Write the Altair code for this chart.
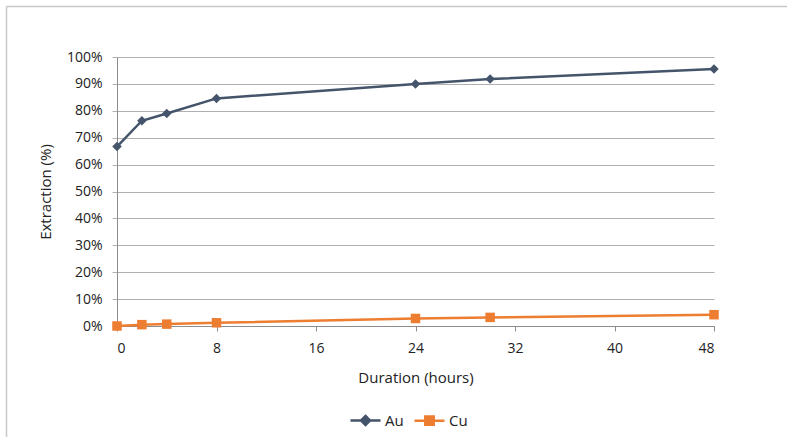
import altair as alt
import pandas as pd

hours = [0, 2, 4, 8, 24, 30, 48]
au = [0.667, 0.763, 0.790, 0.846, 0.900, 0.918, 0.955]
cu = [0.000, 0.005, 0.007, 0.012, 0.028, 0.032, 0.042]
series = ["Au", "Cu"]
colors = ["#44546A", "#ED7D31"]
x_ticks = [0, 8, 16, 24, 32, 40, 48]
y_ticks = [0, 0.1, 0.2, 0.3, 0.4, 0.5, 0.6, 0.7, 0.8, 0.9, 1.0]

df = pd.DataFrame({
    "hours": hours * 2,
    "value": au + cu,
    "series": ["Au"] * len(hours) + ["Cu"] * len(hours),
})

FONT = "Open Sans"
FS = 14
TFS = 15
GRID = "#B0B0B0"
AXIS = "#8C8C8C"

x_enc = alt.X("hours:Q", title="Duration (hours)",
              scale=alt.Scale(domain=[0, 48], nice=False),
              axis=alt.Axis(values=x_ticks, grid=False, tickSize=5, tickColor=AXIS,
                            domainColor=AXIS, labelPadding=10, titlePadding=15,
                            labelFontSize=FS, titleFontSize=TFS, labelColor="#222",
                            titleColor="#222", titleFontWeight="normal"))
y_enc = alt.Y("value:Q", title="Extraction (%)",
              scale=alt.Scale(domain=[0, 1], nice=False),
              axis=alt.Axis(values=y_ticks, format=".0%", grid=True, gridColor=GRID,
                            tickSize=5, tickColor=GRID, domainColor=AXIS,
                            labelPadding=10, titlePadding=13,
                            labelFontSize=FS, titleFontSize=TFS, labelColor="#222",
                            titleColor="#222", titleFontWeight="normal"))

base = alt.Chart(df)

layers = []
for name, col, shp in zip(series, colors, ["diamond", "square"]):
    sub = base.transform_filter(alt.datum.series == name)
    layers.append(sub.mark_line(strokeWidth=2.5, color=col).encode(x=x_enc, y=y_enc))
    layers.append(sub.mark_point(shape=shp, filled=True, size=90, opacity=1, color=col)
                  .encode(x=x_enc, y=y_enc))

leg = alt.Legend(title=None, orient="none", direction="horizontal",
                 legendX=232, legendY=347, labelFontSize=TFS, labelColor="#222",
                 symbolSize=900, symbolStrokeWidth=2.5, columnPadding=5,
                 labelOffset=3, labelFont=FONT)

diamond_path = "M-1,0H1M0,-0.3L0.3,0L0,0.3L-0.3,0Z"
square_path = "M-1,0H1M-0.28,-0.28H0.28V0.28H-0.28Z"

legend_layer = base.mark_point(filled=True, opacity=0).encode(
    color=alt.Color("series:N", scale=alt.Scale(domain=series, range=colors), legend=leg),
    stroke=alt.Stroke("series:N", scale=alt.Scale(domain=series, range=colors), legend=leg),
    shape=alt.Shape("series:N", scale=alt.Scale(domain=series, range=[diamond_path, square_path]), legend=leg),
    x=x_enc, y=y_enc,
)

top_data = alt.Data(values=[{"edge": "top"}])
left_data = alt.Data(values=[{"edge": "left"}])
frame_top = alt.Chart(top_data).mark_rule(stroke="#C8C8C8", strokeWidth=1.5, clip=False).encode(
    x=alt.value(-110.5), x2=alt.value(670), y=alt.value(-50.5)
)
frame_left = alt.Chart(left_data).mark_rule(stroke="#C8C8C8", strokeWidth=1.5, clip=False).encode(
    x=alt.value(-110.5), y=alt.value(-50.5), y2=alt.value(380)
)

chart = alt.layer(frame_top, frame_left, *layers, legend_layer).properties(
    width=597, height=269,
    autosize=alt.AutoSizeParams(type="none"),
    padding={"left": 117, "top": 57, "right": 74, "bottom": 112},
    background="white",
).configure(font=FONT).configure_view(stroke=None).configure_legend(symbolOpacity=1)

chart.save("out.html", embed_options={"renderer": "svg", "actions": False})
